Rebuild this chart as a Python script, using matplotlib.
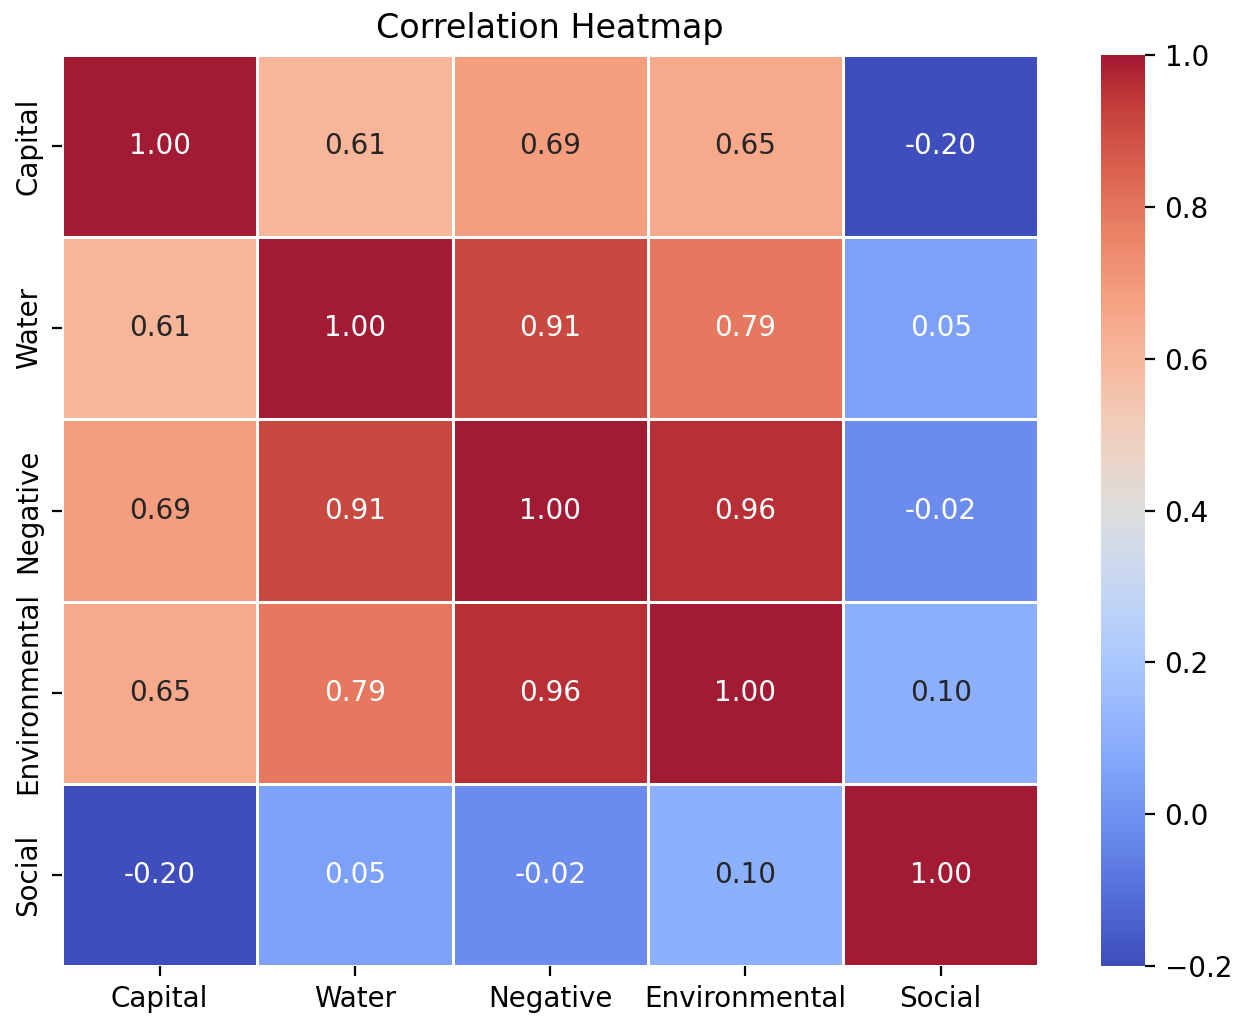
import numpy as np
import matplotlib
matplotlib.use("Agg")
import matplotlib.pyplot as plt
from matplotlib.colors import ListedColormap, rgb_to_hsv, hsv_to_rgb
import seaborn as sns

labels = ["Capital", "Water", "Negative", "Environmental", "Social"]
corr = np.array([
    [1.00, 0.61, 0.69, 0.65, -0.20],
    [0.61, 1.00, 0.91, 0.79, 0.05],
    [0.69, 0.91, 1.00, 0.96, -0.02],
    [0.65, 0.79, 0.96, 1.00, 0.10],
    [-0.20, 0.05, -0.02, 0.10, 1.00],
])

# coolwarm, slightly muted in the most saturated part (as in the reference)
base = plt.get_cmap("coolwarm")(np.linspace(0, 1, 256))[:, :3]
hsv = rgb_to_hsv(base)
s4 = hsv[:, 1] ** 4
hsv[:, 2] *= 1 - 0.1 * s4
hsv[:, 1] *= 1 - 0.15 * s4
cmap = ListedColormap(hsv_to_rgb(hsv))

dpi = 200
fig = plt.figure(figsize=(1246 / dpi, 1019 / dpi), dpi=dpi)
ax = fig.add_axes([0.0498, 0.052, 0.7835, 0.894])
cax = fig.add_axes([0.884, 0.052, 0.035, 0.894])

sns.heatmap(corr, annot=True, fmt=".2f", cmap=cmap, linewidths=1,
            linecolor="white", xticklabels=labels, yticklabels=labels,
            ax=ax, cbar_ax=cax, annot_kws={"fontsize": 10})
ax.set_title("Correlation Heatmap", fontsize=12)
plt.setp(ax.get_yticklabels(), rotation=90, va="center")

fig.savefig("out.png", dpi=dpi)
